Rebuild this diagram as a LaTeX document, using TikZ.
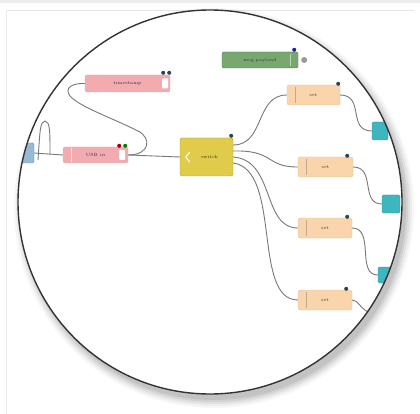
\documentclass[tikz,border=0pt]{standalone}
\usetikzlibrary{calc}
\definecolor{pinkn}{RGB}{242,172,176}
\definecolor{yelln}{RGB}{224,203,75}
\definecolor{peach}{RGB}{250,212,170}
\definecolor{greenn}{RGB}{120,168,112}
\definecolor{tealn}{RGB}{62,182,190}
\definecolor{bluen}{RGB}{150,185,215}
\definecolor{wire}{RGB}{120,120,120}
\definecolor{portc}{RGB}{40,70,85}
\tikzset{
  nbase/.style={rectangle, rounded corners=1.5pt, inner sep=0pt, font=\fontsize{4.5}{5}\selectfont, text=black!80},
  pinkbox/.style={nbase, fill=pinkn, draw=pinkn!80!black!60},
  yellbox/.style={nbase, fill=yelln, draw=yelln!80!black},
  peachbox/.style={nbase, fill=peach, draw=peach!80!black!60},
  greenbox/.style={nbase, fill=greenn, draw=greenn!70!black},
  tealbox/.style={nbase, fill=tealn, draw=tealn!80!black},
  bluebox/.style={nbase, fill=bluen, draw=bluen!80!black},
  wireline/.style={draw=wire, line width=0.9pt},
  portdot/.style={circle, fill=portc, inner sep=0pt, minimum size=4pt},
}
\begin{document}
\begin{tikzpicture}[x=1pt,y=-1pt]
\useasboundingbox (0,0) rectangle (420,414);
\fill[white] (0,0) rectangle (420,414);
\fill[black!7] (0,0) rectangle (420,3);
\draw[black!10, line width=0.6pt] (6,10) -- (414,10);
\draw[black!8, line width=0.6pt] (6,10) -- (6,414);
% shadow
\foreach \r/\o in {200/0.03,198/0.04,196/0.05,194/0.06,192/0.07} {
  \fill[black, opacity=\o] (214,208) circle (\r);
}
\fill[white] (210,202) circle (192);
\begin{scope}
\clip (210,202) circle (192);
% frame wire on left
\draw[wireline] (38,160) .. controls (40,130) and (40,122) .. (45,121) .. controls (50,122) and (50,130) .. (50,155);
% nodes
\node[bluebox, minimum width=12pt, minimum height=20pt] (inj) at (28,153) {};
\node[pinkbox, minimum width=85pt, minimum height=17pt] (ts) at (127.5,83.5) {timestamp};
\node[pinkbox, minimum width=65pt, minimum height=16pt] (usb) at (95.5,155) {USB in};
\node[yellbox, minimum width=53pt, minimum height=38pt] (sw) at (206.5,157) {\hspace{6pt}switch};
\node[greenbox, minimum width=76pt, minimum height=16pt] (dbg) at (260,60) {msg.payload};
\node[peachbox, minimum width=53pt, minimum height=20pt] (o1) at (313.5,95) {set};
\node[peachbox, minimum width=55pt, minimum height=20pt] (o2) at (325.5,167) {set};
\node[peachbox, minimum width=54pt, minimum height=20pt] (o3) at (325,228) {set};
\node[peachbox, minimum width=54pt, minimum height=20pt] (o4) at (325,300) {set};
\node[tealbox, minimum width=16pt, minimum height=18pt] (t1) at (380,131) {};
\node[tealbox, minimum width=18pt, minimum height=18pt] (t2) at (391,204) {};
\node[tealbox, minimum width=14pt, minimum height=16pt] (t3) at (385,275) {};
\coordinate (o4out) at (368,312);
% icons
\fill[white, rounded corners=1pt] ($(ts.east)+(-8,-5)$) rectangle ($(ts.east)+(-2,5)$);
\fill[white, rounded corners=1pt] ($(usb.east)+(-9,-5)$) rectangle ($(usb.east)+(-3,5)$);
\draw[white, line width=1pt] ($(sw.west)+(10,-5)$) -- ($(sw.west)+(6,0)$) -- ($(sw.west)+(10,5)$);
\draw[white!60!pinkn, line width=0.5pt] ($(usb.west)+(8,-7)$) -- ($(usb.west)+(8,7)$);
\foreach \n in {o1,o2,o3,o4} {
  \draw[peach!70!black!80, line width=0.4pt] ($(\n.west)+(8,-8)$) -- ($(\n.west)+(8,8)$);
}
\draw[white!50!greenn, line width=0.5pt] ($(dbg.east)+(-8,-6)$) -- ($(dbg.east)+(-8,6)$);
% wires
\draw[wireline] (inj.east) -- (usb.west);
\draw[wireline] (usb.east) -- (sw.west);
\draw[wireline] (usb.east) .. controls (150,155) and (152,138) .. (138,131) .. controls (110,117) and (80,107) .. (70,96) .. controls (64,88) and (72,83) .. (ts.west);
\draw[wireline] ($(sw.east)+(0,-12)$) .. controls (265,145) and (255,95) .. (o1.west);
\draw[wireline] ($(sw.east)+(0,-6)$) .. controls (275,150) and (265,167) .. (o2.west);
\draw[wireline] ($(sw.east)+(0,0)$) .. controls (275,160) and (262,228) .. (o3.west);
\draw[wireline] ($(sw.east)+(0,6)$) .. controls (282,170) and (252,300) .. (o4.west);
\draw[wireline] (o1.east) .. controls (365,95) and (347,131) .. (t1.west);
\draw[wireline] (o2.east) .. controls (376,167) and (360,204) .. (t2.west);
\draw[wireline] (o3.east) .. controls (375,228) and (356,275) .. (t3.west);
\draw[wireline] (o4.east) .. controls (358,300) and (360,308) .. (o4out);
% port dots
\node[portdot] (p1) at ($(ts.north east)+(-7,-2)$) {};
\node[portdot] (p2) at ($(ts.north east)+(-1,-2)$) {};
\node[portdot, fill=red!60!black] (p3) at ($(usb.north east)+(-9,-1)$) {};
\node[portdot, fill=green!50!black] (p4) at ($(usb.north east)+(-3,-1)$) {};
\node[portdot] (p5) at ($(sw.north east)+(-2,-2)$) {};
\node[portdot, fill=blue!50!portc] (p6) at ($(dbg.north east)+(-4,-2)$) {};
\node[circle, fill=black!40, inner sep=0pt, minimum size=6pt] (p7) at ($(dbg.east)+(6,0)$) {};
\node[portdot] (p8) at ($(o1.north east)+(-2,-1)$) {};
\node[portdot] (p9) at ($(o2.north east)+(-6,-1)$) {};
\node[portdot] (p10) at ($(o3.north east)+(-5,-1)$) {};
\node[portdot] (p11) at ($(o4.north east)+(-6,-1)$) {};
\end{scope}
\draw[black!80, line width=1.4pt] (210,202) circle (192);
\end{tikzpicture}
\end{document}
